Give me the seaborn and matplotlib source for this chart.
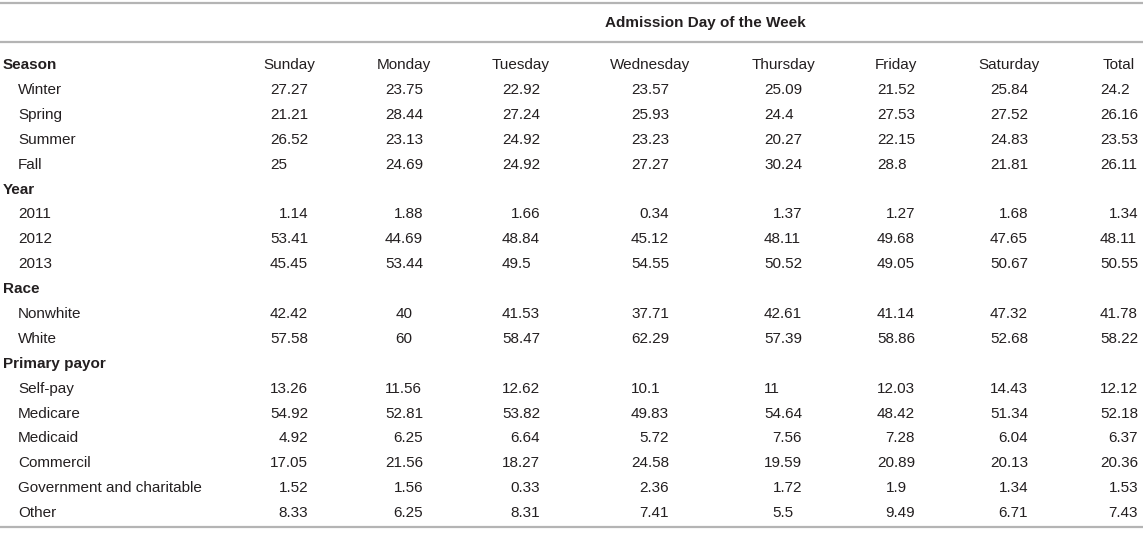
import matplotlib
matplotlib.use("Agg")
import matplotlib.pyplot as plt
import seaborn as sns

# ---------------- data ----------------
days = ["Sunday", "Monday", "Tuesday", "Wednesday", "Thursday", "Friday", "Saturday", "Total"]
span_title = "Admission Day of the Week"

season_labels = ["Winter", "Spring", "Summer", "Fall"]
season_values = [
    [27.27, 23.75, 22.92, 23.57, 25.09, 21.52, 25.84, 24.2],
    [21.21, 28.44, 27.24, 25.93, 24.4, 27.53, 27.52, 26.16],
    [26.52, 23.13, 24.92, 23.23, 20.27, 22.15, 24.83, 23.53],
    [25, 24.69, 24.92, 27.27, 30.24, 28.8, 21.81, 26.11],
]
year_labels = ["2011", "2012", "2013"]
year_values = [
    [1.14, 1.88, 1.66, 0.34, 1.37, 1.27, 1.68, 1.34],
    [53.41, 44.69, 48.84, 45.12, 48.11, 49.68, 47.65, 48.11],
    [45.45, 53.44, 49.5, 54.55, 50.52, 49.05, 50.67, 50.55],
]
race_labels = ["Nonwhite", "White"]
race_values = [
    [42.42, 40, 41.53, 37.71, 42.61, 41.14, 47.32, 41.78],
    [57.58, 60, 58.47, 62.29, 57.39, 58.86, 52.68, 58.22],
]
payor_labels = ["Self-pay", "Medicare", "Medicaid", "Commercil",
                "Government and charitable", "Other"]
payor_values = [
    [13.26, 11.56, 12.62, 10.1, 11, 12.03, 14.43, 12.12],
    [54.92, 52.81, 53.82, 49.83, 54.64, 48.42, 51.34, 52.18],
    [4.92, 6.25, 6.64, 5.72, 7.56, 7.28, 6.04, 6.37],
    [17.05, 21.56, 18.27, 24.58, 19.59, 20.89, 20.13, 20.36],
    [1.52, 1.56, 0.33, 2.36, 1.72, 1.9, 1.34, 1.53],
    [8.33, 6.25, 8.31, 7.41, 5.5, 9.49, 6.71, 7.43],
]
groups = [
    ("Season", season_labels, season_values),
    ("Year", year_labels, year_values),
    ("Race", race_labels, race_values),
    ("Primary payor", payor_labels, payor_values),
]

# ---------------- layout / style ----------------
sns.set_theme(style="white")
plt.rcParams["font.family"] = ["Liberation Sans", "DejaVu Sans"]

W, H = 1143, 535
fig = plt.figure(figsize=(W / 100, H / 100), dpi=100)
ax = fig.add_axes([0, 0, 1, 1])
ax.set_xlim(0, W)
ax.set_ylim(H, 0)
ax.axis("off")

txt = "#231f20"
line_col = "#b4b4b4"
fs = 11
em = fs * 100 / 72          # px per em
digit = 0.556 * em          # digit width (Arial metrics)
cell_w = 4 * digit + 0.278 * em

col_x = [270, 385, 502, 631, 764, 877, 990, 1100]
label_x_group = 3
label_x_item = 18
y0 = 65
dy = 24.9

for yl in (3, 42, 527):
    ax.axhline(yl, color=line_col, lw=1.6)

ax.text(705, 23, span_title, ha="center", va="center", fontsize=fs,
        fontweight="bold", color=txt)

for d, x in zip(days, col_x):
    ax.text(x + cell_w / 2, y0, d, ha="center", va="center", fontsize=fs, color=txt)

row = 0
for gname, labels, values in groups:
    y = y0 + row * dy
    ax.text(label_x_group, y, gname, ha="left", va="center", fontsize=fs,
            fontweight="bold", color=txt)
    row += 1
    for lab, vals in zip(labels, values):
        y = y0 + row * dy
        ax.text(label_x_item, y, lab, ha="left", va="center", fontsize=fs, color=txt)
        for v, x in zip(vals, col_x):
            s = f"{v:g}"
            ip = s.split(".")[0]
            if len(ip) == 1:
                xx = x + digit
            elif "." not in s and gname == "Race":
                xx = x + (cell_w - len(s) * digit) / 2
            else:
                xx = x
            ax.text(xx, y, s, ha="left", va="center", fontsize=fs, color=txt)
        row += 1

fig.savefig("out.png", dpi=100)
